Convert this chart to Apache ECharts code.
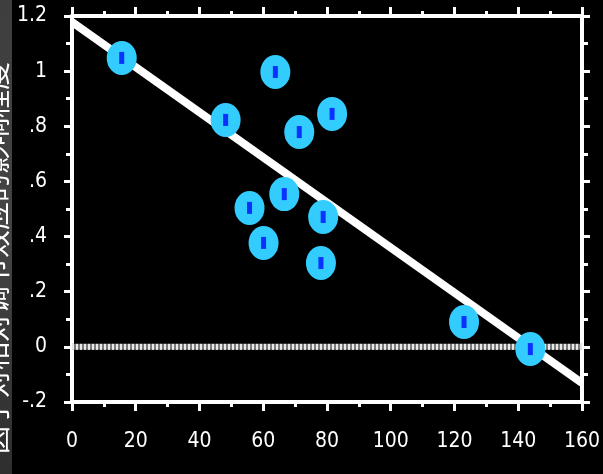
<!DOCTYPE html>
<html><head><meta charset="utf-8">
<script src="https://cdn.jsdelivr.net/npm/echarts@6/dist/echarts.min.js"></script>
<style>html,body{margin:0;padding:0;background:#000;}#c{width:603px;height:474px;}</style>
</head><body><div id="c"></div>
<script>
// Data
const xValues = [15.6, 63.8, 48.2, 81.6, 71.3, 66.6, 55.7, 78.8, 60.1, 78.1, 123.0, 143.8];
const yValues = [1.048, 0.997, 0.823, 0.845, 0.779, 0.554, 0.504, 0.471, 0.377, 0.304, 0.090, -0.008];
const fitX = [0, 160];
const fitY = [1.178, -0.131];
const zeroX = [0, 160];
const zeroY = [0, 0];
const xTicks = [0, 20, 40, 60, 80, 100, 120, 140, 160];
const yTicks = [-0.2, 0, 0.2, 0.4, 0.6, 0.8, 1, 1.2];
const yTitle = '因子对相对调节效应的影响程度';

const points = xValues.map((x, i) => [x, yValues[i]]);
const fitLine = fitX.map((x, i) => [x, fitY[i]]);
const zeroLine = zeroX.map((x, i) => [x, zeroY[i]]);

const labelFont = "'DejaVu Sans Condensed','Liberation Sans Narrow',sans-serif";
function yFmt(v) {
  let s = String(Math.round(v * 10) / 10);
  s = s.replace(/^0\./, '.').replace(/^-0\./, '-.');
  return s;
}
const common = () => ({
  type: 'value',
  axisLine: { show: true, onZero: false, lineStyle: { color: '#fff', width: 4 } },
  axisTick: { show: true, inside: false, length: 9, lineStyle: { color: '#fff', width: 3 } },
  minorTick: { show: true, splitNumber: 2, length: 5, lineStyle: { color: '#fff', width: 3 } },
  splitLine: { show: false },
  minorSplitLine: { show: false }
});

const chart = echarts.init(document.getElementById('c'), null, { renderer: 'canvas' });
chart.setOption({
  backgroundColor: '#000',
  animation: false,
  grid: { left: 72, right: 18, top: 16, bottom: 72, containLabel: false },
  graphic: [
    { type: 'rect', left: 0, top: 0, shape: { width: 12, height: 474 }, z: 0,
      style: { fill: new echarts.graphic.LinearGradient(0, 0, 0, 1, [
        { offset: 0, color: '#3e3e3e' }, { offset: 0.5, color: '#444444' }, { offset: 1, color: '#2e2e2e' }]) } },
    { type: 'text', x: -4, y: 258, rotation: Math.PI / 2, z: 1,
      style: { text: yTitle, fill: '#fff', font: "28px 'Noto Sans CJK SC'", textAlign: 'center', textVerticalAlign: 'middle' } }
  ],
  xAxis: [
    Object.assign(common(), { position: 'bottom', min: xTicks[0], max: xTicks[xTicks.length - 1], interval: 20,
      axisLabel: { show: true, color: '#fff', fontSize: 21, fontFamily: labelFont, margin: 29 } }),
    Object.assign(common(), { position: 'top', min: xTicks[0], max: xTicks[xTicks.length - 1], interval: 20,
      axisLabel: { show: false } })
  ],
  yAxis: [
    Object.assign(common(), { position: 'left', min: yTicks[0], max: yTicks[yTicks.length - 1], interval: 0.2,
      axisTick: { show: true, length: 8, lineStyle: { color: '#fff', width: 3 } },
      minorTick: { show: true, splitNumber: 2, length: 6, lineStyle: { color: '#fff', width: 3 } },
      axisLabel: { show: true, color: '#fff', fontSize: 21, fontFamily: labelFont, margin: 25, formatter: yFmt } }),
    Object.assign(common(), { position: 'right', min: yTicks[0], max: yTicks[yTicks.length - 1], interval: 0.2,
      axisTick: { show: true, length: 8, lineStyle: { color: '#fff', width: 3 } },
      minorTick: { show: true, splitNumber: 2, length: 6, lineStyle: { color: '#fff', width: 3 } },
      axisLabel: { show: false } })
  ],
  series: [
    { type: 'line', data: zeroLine, xAxisIndex: 0, yAxisIndex: 0, symbol: 'none', z: 1,
      lineStyle: { color: '#7a7a7a', width: 6 } },
    { type: 'line', data: zeroLine, xAxisIndex: 0, yAxisIndex: 0, symbol: 'none', z: 2,
      lineStyle: { color: '#e8e8e8', width: 6, type: [2, 2] } },
    { type: 'line', data: fitLine, xAxisIndex: 0, yAxisIndex: 0, symbol: 'none', z: 3,
      lineStyle: { color: '#fff', width: 8 } },
    { type: 'scatter', data: points, xAxisIndex: 0, yAxisIndex: 0, z: 4, symbol: 'circle',
      symbolSize: [30, 34], itemStyle: { color: '#33ccff', opacity: 1 } },
    { type: 'scatter', data: points, xAxisIndex: 0, yAxisIndex: 0, z: 5, symbol: 'rect',
      symbolSize: [5, 12], itemStyle: { color: '#0a32ff', opacity: 1 } }
  ]
});
</script></body></html>
